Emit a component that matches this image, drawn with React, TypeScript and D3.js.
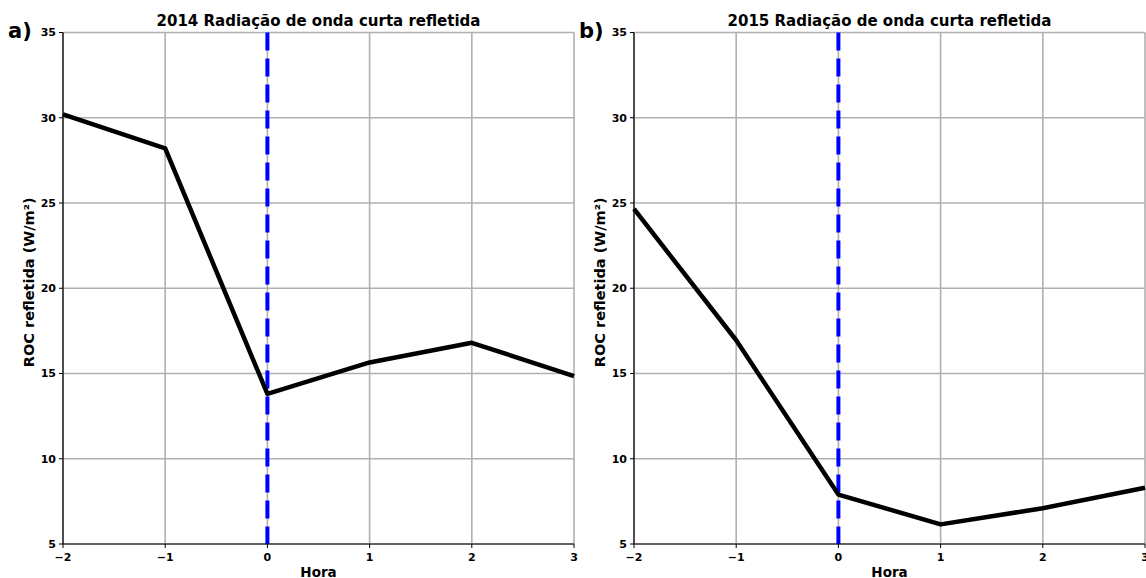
import React from "react";
import * as d3 from "d3";

const hours = [-2, -1, 0, 1, 2, 3];
const roc2014 = [30.2, 28.2, 13.8, 15.65, 16.8, 14.85];
const roc2015 = [24.65, 16.95, 7.9, 6.15, 7.1, 8.3];
const yTicks = [5, 10, 15, 20, 25, 30, 35];
const xTicks = [-2, -1, 0, 1, 2, 3];

const FONT = "'DejaVu Sans', sans-serif";

type PanelProps = {
  left: number;
  title: string;
  tag: string;
  values: number[];
};

const W = 511;
const TOP = 32.5;
const BOTTOM = 544;

function Panel({ left, title, tag, values }: PanelProps) {
  const x = d3.scaleLinear().domain([-2, 3]).range([left, left + W]);
  const y = d3.scaleLinear().domain([5, 35]).range([BOTTOM, TOP]);
  const line = d3
    .line<number>()
    .x((_, i) => x(hours[i]))
    .y((d) => y(d));
  return (
    <g>
      <defs>
        <clipPath id={`clip-${tag}`}>
          <rect x={left} y={TOP} width={W} height={BOTTOM - TOP} />
        </clipPath>
      </defs>
      {/* grid */}
      {xTicks.map((t) => (
        <line key={`gx${t}`} x1={x(t)} x2={x(t)} y1={TOP} y2={BOTTOM} stroke="#b0b0b0" strokeWidth={1.6} />
      ))}
      {yTicks.map((t) => (
        <line key={`gy${t}`} x1={left} x2={left + W} y1={y(t)} y2={y(t)} stroke="#b0b0b0" strokeWidth={1.6} />
      ))}
      {/* reference line at hour 0 */}
      <line
        x1={x(0)}
        x2={x(0)}
        y1={TOP}
        y2={BOTTOM}
        stroke="#0000ff"
        strokeWidth={4}
        strokeDasharray="18 8"
      />
      <path
        d={line(values) ?? ""}
        fill="none"
        stroke="#000"
        strokeWidth={4.5}
        strokeLinejoin="round"
        clipPath={`url(#clip-${tag})`}
      />
      {/* spines */}
      <line x1={left} x2={left} y1={TOP} y2={BOTTOM} stroke="#000" strokeWidth={1.2} />
      <line x1={left} x2={left + W} y1={BOTTOM} y2={BOTTOM} stroke="#000" strokeWidth={1.2} />
      {/* ticks */}
      {yTicks.map((t) => (
        <g key={`ty${t}`}>
          <line x1={left - 4} x2={left} y1={y(t)} y2={y(t)} stroke="#000" strokeWidth={1} />
          <text
            x={left - 7}
            y={y(t)}
            dy="0.35em"
            textAnchor="end"
            fontFamily={FONT}
            fontWeight="bold"
            fontSize={11}
          >
            {t}
          </text>
        </g>
      ))}
      {xTicks.map((t) => (
        <g key={`tx${t}`}>
          <line x1={x(t)} x2={x(t)} y1={BOTTOM} y2={BOTTOM + 4} stroke="#000" strokeWidth={1} />
          <text
            x={x(t)}
            y={BOTTOM + 16.5}
            textAnchor="middle"
            fontFamily={FONT}
            fontWeight="bold"
            fontSize={11}
          >
            {t < 0 ? `\u2212${Math.abs(t)}` : t}
          </text>
        </g>
      ))}
      <text
        x={left + W / 2}
        y={577}
        textAnchor="middle"
        fontFamily={FONT}
        fontWeight="bold"
        fontSize={13.5}
      >
        Hora
      </text>
      <text
        transform={`translate(${left - 29},${(TOP + BOTTOM) / 2 - 6}) rotate(-90)`}
        textAnchor="middle"
        fontFamily={FONT}
        fontWeight="bold"
        fontSize={14.5}
      >
        ROC refletida (W/m²)
      </text>
      <text
        x={left + W / 2}
        y={25.5}
        textAnchor="middle"
        fontFamily={FONT}
        fontWeight="bold"
        fontSize={15}
      >
        {title}
      </text>
      <text
        x={left - 55}
        y={38}
        fontFamily={FONT}
        fontWeight="bold"
        fontSize={21}
      >
        {tag}
      </text>
    </g>
  );
}

export default function App() {
  return (
    <svg
      width={1146}
      height={578}
      style={{ position: "absolute", left: 0, top: 0, background: "#fff" }}
    >
      <rect width={1146} height={578} fill="#fff" />
      <Panel left={63} title="2014 Radiação de onda curta refletida" tag="a)" values={roc2014} />
      <Panel left={634} title="2015 Radiação de onda curta refletida" tag="b)" values={roc2015} />
    </svg>
  );
}
